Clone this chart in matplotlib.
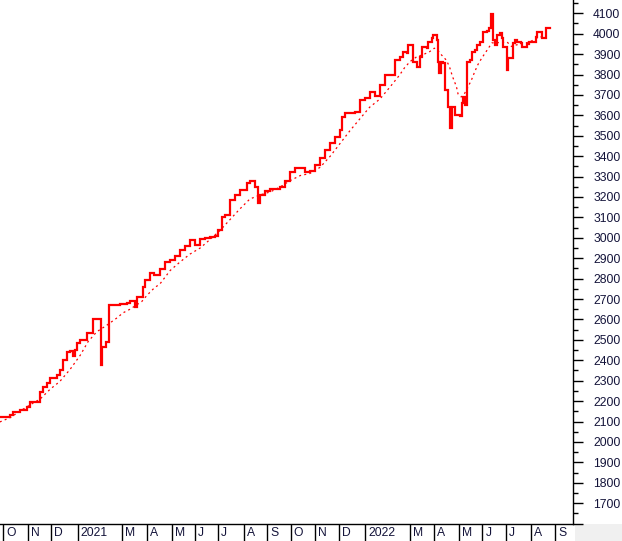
import matplotlib
matplotlib.use("Agg")
import matplotlib.pyplot as plt
import pandas as pd
from matplotlib.ticker import MultipleLocator, FixedLocator, NullFormatter
from matplotlib.transforms import blended_transform_factory, offset_copy
from matplotlib.patches import Rectangle

# ---------------- data ----------------
price_dates = [
    "2020-09-27", "2020-10-10", "2020-10-14", "2020-10-23", "2020-10-31", "2020-11-04",
    "2020-11-17", "2020-11-21", "2020-11-26", "2020-11-30", "2020-12-08", "2020-12-12",
    "2020-12-16", "2020-12-21", "2020-12-25", "2020-12-29", "2020-12-31", "2021-01-03",
    "2021-01-07", "2021-01-15", "2021-01-23", "2021-02-02", "2021-02-04", "2021-02-09",
    "2021-02-13", "2021-02-26", "2021-03-07", "2021-03-11", "2021-03-17", "2021-03-20",
    "2021-03-27", "2021-03-30", "2021-04-05", "2021-04-11", "2021-04-18", "2021-04-24",
    "2021-05-01", "2021-05-07", "2021-05-13", "2021-05-20", "2021-05-26", "2021-06-01",
    "2021-06-08", "2021-06-14", "2021-06-20", "2021-06-27", "2021-07-01", "2021-07-06",
    "2021-07-10", "2021-07-16", "2021-07-22", "2021-07-28", "2021-08-06", "2021-08-10",
    "2021-08-16", "2021-08-20", "2021-08-23", "2021-08-29", "2021-09-05", "2021-09-17",
    "2021-09-24", "2021-09-30", "2021-10-06", "2021-10-13", "2021-10-19", "2021-10-25",
    "2021-11-01", "2021-11-07", "2021-11-13", "2021-11-20", "2021-11-26", "2021-12-02",
    "2021-12-05", "2021-12-09", "2021-12-15", "2021-12-21", "2021-12-28", "2022-01-03",
    "2022-01-09", "2022-01-16", "2022-01-22", "2022-01-28", "2022-02-04", "2022-02-10",
    "2022-02-16", "2022-02-20", "2022-02-25", "2022-02-27", "2022-03-04", "2022-03-05",
    "2022-03-10", "2022-03-14", "2022-03-16", "2022-03-23", "2022-03-24", "2022-03-29",
    "2022-03-30", "2022-04-04", "2022-04-06", "2022-04-07", "2022-04-09", "2022-04-12",
    "2022-04-14", "2022-04-18", "2022-04-21", "2022-04-23", "2022-04-27", "2022-05-03",
    "2022-05-06", "2022-05-07", "2022-05-10", "2022-05-12", "2022-05-16", "2022-05-19",
    "2022-05-22", "2022-05-25", "2022-05-29", "2022-06-02", "2022-06-07", "2022-06-09",
    "2022-06-12", "2022-06-14", "2022-06-17", "2022-06-19", "2022-06-23", "2022-06-26",
    "2022-06-27", "2022-07-02", "2022-07-03", "2022-07-10", "2022-07-12", "2022-07-15",
    "2022-07-20", "2022-07-21", "2022-07-28", "2022-07-30", "2022-08-08", "2022-08-09",
    "2022-08-15", "2022-08-20", "2022-08-24", "2022-08-26",
]
price_values = [
    2124, 2132, 2147, 2157, 2173, 2198,
    2247, 2271, 2290, 2313, 2330, 2350,
    2400, 2443, 2445, 2420, 2451, 2485,
    2500, 2533, 2603, 2377, 2467, 2492,
    2671, 2675, 2681, 2688, 2663, 2712,
    2761, 2794, 2830, 2820, 2845, 2880,
    2890, 2910, 2940, 2960, 2990, 2965,
    2995, 3000, 3005, 3010, 3040, 3100,
    3110, 3185, 3210, 3235, 3270, 3280,
    3250, 3170, 3210, 3230, 3240, 3250,
    3280, 3320, 3340, 3340, 3320, 3325,
    3355, 3390, 3430, 3465, 3495, 3530,
    3590, 3610, 3610, 3615, 3675, 3685,
    3715, 3695, 3750, 3800, 3800, 3870,
    3888, 3912, 3905, 3945, 3945, 3863,
    3838, 3888, 3937, 3929, 3961, 3977,
    3994, 3970, 3863, 3806, 3863, 3855,
    3724, 3643, 3537, 3643, 3602, 3597,
    3659, 3692, 3651, 3863, 3871, 3912,
    3920, 3945, 3961, 4010, 4015, 4026,
    4097, 3970, 3945, 3994, 4002, 3977,
    3937, 3822, 3880, 3953, 3970, 3961,
    3953, 3937, 3950, 3961, 3985, 4007,
    3977, 4026, 4030, 4030,
]

ma_dates = [
    "2020-09-27", "2020-10-10", "2020-10-25", "2020-11-08", "2020-11-17", "2020-11-30",
    "2020-12-12", "2020-12-25", "2021-01-07", "2021-01-17", "2021-01-28", "2021-02-09",
    "2021-02-23", "2021-03-02", "2021-03-11", "2021-03-26", "2021-04-02", "2021-04-11",
    "2021-04-18", "2021-05-01", "2021-05-13", "2021-05-26", "2021-06-08", "2021-06-20",
    "2021-07-03", "2021-07-16", "2021-07-28", "2021-08-10", "2021-08-23", "2021-09-05",
    "2021-09-17", "2021-09-30", "2021-10-13", "2021-10-25", "2021-11-07", "2021-11-20",
    "2021-12-02", "2021-12-15", "2021-12-28", "2022-01-09", "2022-01-22", "2022-02-04",
    "2022-02-16", "2022-02-22", "2022-03-01", "2022-03-10", "2022-03-17", "2022-03-26",
    "2022-04-01", "2022-04-05", "2022-04-10", "2022-04-16", "2022-04-20", "2022-04-24",
    "2022-04-29", "2022-05-01", "2022-05-05", "2022-05-09", "2022-05-13", "2022-05-18",
    "2022-05-22", "2022-05-26", "2022-05-31", "2022-06-07", "2022-06-13", "2022-06-26",
    "2022-07-02", "2022-07-08", "2022-07-14", "2022-07-24", "2022-07-31", "2022-08-09",
    "2022-08-15", "2022-08-20",
]
ma_values = [
    2098, 2119, 2157, 2190, 2210, 2259,
    2296, 2355, 2425, 2492, 2540, 2570,
    2609, 2632, 2650, 2688, 2720, 2755,
    2774, 2840, 2880, 2920, 2950, 2990,
    3035, 3090, 3140, 3190, 3210, 3225,
    3248, 3280, 3305, 3315, 3345, 3400,
    3460, 3525, 3585, 3640, 3680, 3740,
    3798, 3832, 3863, 3888, 3896, 3912,
    3929, 3920, 3896, 3871, 3840, 3790,
    3740, 3705, 3690, 3705, 3734, 3773,
    3812, 3847, 3880, 3920, 3955, 3957,
    3960, 3937, 3945, 3953, 3960, 3978,
    3985, 3988,
]

month_ticks = [
    "2020-10-01", "2020-11-02", "2020-12-01", "2021-01-04", "2021-03-01", "2021-04-01",
    "2021-05-03", "2021-06-01", "2021-07-01", "2021-08-02", "2021-09-01", "2021-10-01",
    "2021-11-01", "2021-12-01", "2022-01-03", "2022-03-01", "2022-04-01", "2022-05-02",
    "2022-06-01", "2022-07-01", "2022-08-01", "2022-09-01",
]
month_labels = [
    "O", "N", "D", "2021", "M", "A", "M", "J", "J", "A", "S", "O",
    "N", "D", "2022", "M", "A", "M", "J", "J", "A", "S",
]

y_major = list(range(1600, 4101, 100))
y_labels = ["" if v == 1600 else str(v) for v in y_major]

# ---------------- figure ----------------
plt.rcParams["font.family"] = ["Liberation Sans", "DejaVu Sans"]
W, H = 622, 541
fig = plt.figure(figsize=(W / 100, H / 100), dpi=100)
fig.patch.set_facecolor("white")
ax = fig.add_axes([0, 17 / H, 573 / W, 524 / H])
ax.set_facecolor("white")

ax.plot(pd.to_datetime(ma_dates), ma_values, color="#ff0000", lw=0.9,
        linestyle=(0, (1.6, 2.6)), zorder=2)
ax.plot(pd.to_datetime(price_dates), price_values, color="#ff0000", lw=1.6,
        drawstyle="steps-post", zorder=3, solid_joinstyle="miter")

ax.set_xlim(pd.Timestamp("2020-09-27 05:00"), pd.Timestamp("2022-09-23 19:00"))
ax.set_ylim(1598, 4165)

for s in ["top", "left"]:
    ax.spines[s].set_visible(False)
for s in ["right", "bottom"]:
    ax.spines[s].set_color("black")
    ax.spines[s].set_linewidth(1)

# y axis on right
ax.yaxis.tick_right()
ax.yaxis.set_major_locator(FixedLocator(y_major))
ax.set_yticklabels(y_labels)
ax.yaxis.set_minor_locator(MultipleLocator(50))
ax.tick_params(axis="y", which="major", length=7.5, width=1, direction="out",
               pad=7, labelsize=8.7, labelcolor="#14143a", color="black")
ax.tick_params(axis="y", which="minor", length=3.6, width=1, direction="out",
               color="black")

# x axis ticks as separators
tick_dates = pd.to_datetime(month_ticks)
ax.set_xticks(tick_dates)
ax.xaxis.set_major_formatter(NullFormatter())
ax.tick_params(axis="x", which="major", length=12.5, width=1, direction="out",
               color="black")
ax.tick_params(axis="x", which="minor", length=0)

trans = blended_transform_factory(ax.transData, ax.transAxes)
trans = offset_copy(trans, fig=fig, x=3, y=-3.5, units="dots")
for d, lab in zip(tick_dates, month_labels):
    ax.text(d, 0, lab, transform=trans, ha="left", va="top", fontsize=8.7,
            color="#14143a", clip_on=False)

# grey corner box below the price scale
fig.add_artist(Rectangle((575 / W, 0), (W - 575) / W, 17 / H,
                         transform=fig.transFigure, facecolor="#f0f0f0",
                         edgecolor="none", zorder=0))

fig.savefig("out.png", dpi=100)
